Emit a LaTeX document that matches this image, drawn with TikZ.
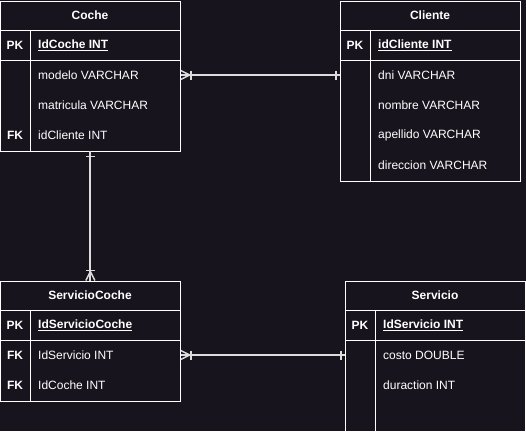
\documentclass[tikz,border=0pt]{standalone}
\usepackage{fontspec}
\setmainfont{Liberation Sans}
\usetikzlibrary{calc}
\definecolor{bg}{RGB}{24,20,29}
\definecolor{ln}{RGB}{220,220,220}
\begin{document}
\begin{tikzpicture}[x=1pt,y=-1pt,
  tbl/.style={draw=white, line width=0.8pt, anchor=north west, inner sep=0pt, minimum width=180pt},
  sep/.style={draw=white, line width=0.8pt},
  ttl/.style={font=\fontsize{12}{14}\selectfont\bfseries, text=white, inner sep=0pt},
  fld/.style={font=\fontsize{12}{14}\selectfont, text=white, anchor=west, inner sep=0pt},
  pkf/.style={fld, font=\fontsize{12}{14}\selectfont\bfseries},
  key/.style={font=\fontsize{12}{14}\selectfont\bfseries, text=white, inner sep=0pt},
  rel/.style={draw=ln, line width=2pt},
  tip/.style={draw=ln, line width=1.5pt}]
\fill[bg] (0,0) rectangle (526,431);
\useasboundingbox (0,0) rectangle (526,431);

% ---- Coche ----
\node[tbl, minimum height=150pt] (coche) at (0,0.5) {};
\draw[sep] (0,30) -- (180,30) (0,60) -- (180,60) (30,30) -- (30,150.5);
\node[ttl] (cocheT) at (90,15) {Coche};
\node[key] (cocheK1) at (15,45) {PK};
\node[pkf] (cochePK) at (38,45) {\underline{IdCoche INT}};
\node[fld] (cocheModelo) at (38,75) {modelo VARCHAR};
\node[fld] (cocheMat) at (38,105) {matricula VARCHAR};
\node[key] (cocheK2) at (15,135) {FK};
\node[fld] (cocheCli) at (38,135) {idCliente INT};

% ---- Cliente ----
\node[tbl, minimum height=180pt] (cliente) at (340,0.5) {};
\draw[sep] (340,30) -- (520,30) (340,60) -- (520,60) (370,30) -- (370,180.5);
\node[ttl] (clienteT) at (430,15) {Cliente};
\node[key] (clienteK1) at (355,45) {PK};
\node[pkf] (clientePK) at (378,45) {\underline{idCliente INT}};
\node[fld] (clienteDni) at (378,75) {dni VARCHAR};
\node[fld] (clienteNom) at (378,105) {nombre VARCHAR};
\node[fld] (clienteApe) at (378,135) {apellido VARCHAR};
\node[fld] (clienteDir) at (378,165) {direccion VARCHAR};

% ---- ServicioCoche ----
\node[tbl, minimum height=120pt] (sc) at (0,280.5) {};
\draw[sep] (0,310) -- (180,310) (0,340) -- (180,340) (30,310) -- (30,400.5);
\node[ttl] (scT) at (90,295) {ServicioCoche};
\node[key] (scK1) at (15,325) {PK};
\node[pkf] (scPK) at (38,325) {\underline{IdServicioCoche}};
\node[key] (scK2) at (15,355) {FK};
\node[fld] (scServ) at (38,355) {IdServicio INT};
\node[key] (scK3) at (15,385) {FK};
\node[fld] (scCoche) at (38,385) {IdCoche INT};

% ---- Servicio ----
\node[tbl, minimum height=150pt] (serv) at (345,280.5) {};
\draw[sep] (345,310) -- (525,310) (345,340) -- (525,340) (375,310) -- (375,430.5);
\node[ttl] (servT) at (435,295) {Servicio};
\node[key] (servK1) at (360,325) {PK};
\node[pkf] (servPK) at (383,325) {\underline{IdServicio INT}};
\node[fld] (servCosto) at (383,355) {costo DOUBLE};
\node[fld] (servDur) at (383,385) {duraction INT};

% ---- Relationships ----
% Coche -- Cliente
\coordinate (r1a) at (coche.east |- cocheModelo);
\coordinate (r1b) at (cliente.west |- cocheModelo);
\draw[rel] (r1a) -- (r1b);
\draw[tip] ($(r1a)+(0,-4.5)$) -- ($(r1a)+(9,0)$) -- ($(r1a)+(0,4.5)$);
\draw[tip] ($(r1a)+(10,-4.5)$) -- ($(r1a)+(10,4.5)$);
\draw[tip] ($(r1b)+(-4,-4.5)$) -- ($(r1b)+(-4,4.5)$);

% Coche -- ServicioCoche
\coordinate (r2a) at (coche.south);
\coordinate (r2b) at (sc.north);
\draw[rel] (r2a) -- (r2b);
\draw[tip] ($(r2a)+(-4.5,5)$) -- ($(r2a)+(4.5,5)$);
\draw[tip] ($(r2b)+(-4.5,0)$) -- ($(r2b)+(0,-9)$) -- ($(r2b)+(4.5,0)$);
\draw[tip] ($(r2b)+(-4.5,-10)$) -- ($(r2b)+(4.5,-10)$);

% ServicioCoche -- Servicio
\coordinate (r3a) at (sc.east |- scServ);
\coordinate (r3b) at (serv.west |- scServ);
\draw[rel] (r3a) -- (r3b);
\draw[tip] ($(r3a)+(0,-4.5)$) -- ($(r3a)+(9,0)$) -- ($(r3a)+(0,4.5)$);
\draw[tip] ($(r3a)+(10,-4.5)$) -- ($(r3a)+(10,4.5)$);
\draw[tip] ($(r3b)+(-4,-4.5)$) -- ($(r3b)+(-4,4.5)$);
\end{tikzpicture}
\end{document}
